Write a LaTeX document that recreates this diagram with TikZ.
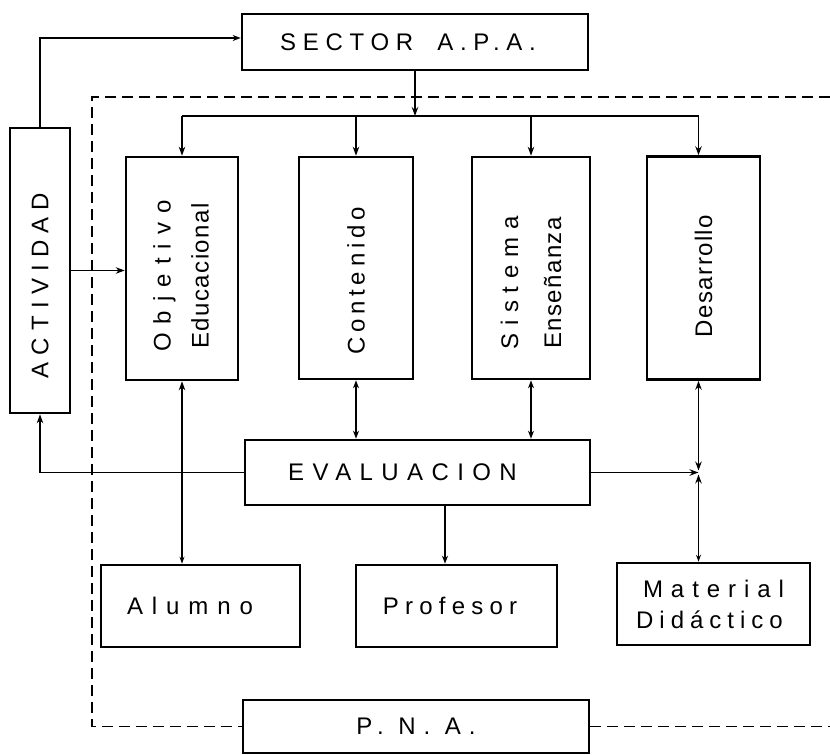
\documentclass[tikz,border=0pt]{standalone}
\usepackage{fontspec}
\setmainfont{Liberation Sans}
\usetikzlibrary{arrows.meta,calc}
% letter-spaced text: #1 = tracking, #2 = text
\newcommand{\tracked}[2]{{\addfontfeatures{LetterSpace=#1}#2}}

\begin{document}
\begin{tikzpicture}[x=1pt,y=-1pt,
  box/.style={draw, line width=2.6pt, inner sep=0pt, font=\fontsize{24}{29}\selectfont},
  link/.style={line width=1.4pt, >={Stealth[length=9pt,width=6.5pt]}},
  hollow/.style={line width=1.4pt, >={Stealth[length=8pt,width=6pt,open,fill=white]}},
  frame/.style={line width=1.4pt, dash pattern=on 11pt off 6pt}]
\useasboundingbox (0,0) rectangle (830,755);

% ---- blocks ----
\node[box, minimum width=346pt, minimum height=56pt] (sector) at (415,42)
  {\tracked{28}{SECTOR}\hspace{24pt}\tracked{28}{A.P.A.}\hspace*{14pt}};
\node[box, minimum width=60pt, minimum height=285pt] (act) at (40,270.5)
  {\rotatebox{90}{\tracked{30}{ACTIVIDAD}\hspace*{30pt}}};
\node[box, minimum width=112pt, minimum height=223pt] (obj) at (182,268.5)
  {\rotatebox{90}{\fontsize{24}{38}\selectfont\begin{tabular}{@{}c@{}}\tracked{38}{Objetivo}\\\tracked{6}{Educacional}\end{tabular}\hspace*{15pt}}};
\node[box, minimum width=114pt, minimum height=222pt] (cont) at (356,268)
  {\rotatebox{90}{\tracked{20}{Contenido}\hspace*{26pt}}};
\node[box, minimum width=118pt, minimum height=222pt] (sist) at (531,268)
  {\rotatebox{90}{\fontsize{24}{43}\selectfont\begin{tabular}{@{}c@{}}\tracked{32}{Sistema}\\\tracked{6}{Enseñanza}\end{tabular}\hspace*{30pt}}};
\node[box, minimum width=113pt, minimum height=223pt] (des) at (703.5,268)
  {\rotatebox{90}{\tracked{6}{Desarrollo}\hspace*{16pt}}};
\node[box, minimum width=345pt, minimum height=65pt] (eval) at (417.5,472.5)
  {\tracked{35}{EVALUACION}\hspace*{30pt}};
\node[box, minimum width=199pt, minimum height=82pt] (alum) at (200.5,606)
  {\tracked{37}{Alumno}\hspace*{21pt}};
\node[box, minimum width=201pt, minimum height=82pt] (prof) at (456.5,606)
  {\tracked{26}{Profesor}\hspace*{13pt}};
\node[box, minimum width=193pt, minimum height=82pt, align=center,
      font=\fontsize{24}{31}\selectfont] (mat) at (713.5,604)
  {\tracked{33}{Material}\\\tracked{25}{Didáctico}\hspace*{8pt}};
\node[box, minimum width=346pt, minimum height=53pt] (pna) at (416,726.5)
  {\tracked{33}{P. N. A.}};

% ---- dashed boundary ----
\coordinate (ftl) at (92,97);
\coordinate (ftr) at (830,97);
\draw[frame] (ftr) -- (ftl) -- (ftl |- pna.west) -- (pna.west);
\draw[frame] (pna.east) -- (pna.east -| ftr);

% ---- distribution bus from SECTOR A.P.A. ----
\coordinate (bus) at (0,116);
\coordinate (dcol) at ($(des.north)+(-5,0)$);
\draw[link] (obj.north |- bus) -- (dcol |- bus);
\draw[link,->] (sector.south) -- (sector.south |- bus);
\draw[link,->] (obj.north |- bus) -- (obj.north);
\draw[link,->] (cont.north |- bus) -- (cont.north);
\draw[link,->] (sist.north |- bus) -- (sist.north);
\draw[link,->] (dcol |- bus) -- (dcol);

% ---- ACTIVIDAD links ----
\coordinate (sin) at ($(sector.west)+(0,-4)$);
\draw[hollow,->] (act.north) |- (sin);
\draw[link,->] (act.east) -- (act.east -| obj.west);
\draw[link,->] (eval.west) -| (act.south);

% ---- EVALUACION links ----
\draw[line width=1.4pt, {Stealth[length=9pt,width=6.5pt]}-{Stealth[length=7pt,width=5pt,open,fill=white]}]
  (obj.south) -- (obj.south |- alum.north);
\draw[hollow,<->] (cont.south) -- (cont.south |- eval.north);
\draw[hollow,<->] (sist.south) -- (sist.south |- eval.north);
\coordinate (ep) at ($(eval.south)+(27.5,0)$);
\draw[hollow,->] (ep) -- (ep |- prof.north);
\coordinate (J) at (dcol |- eval.east);
\draw[link,->] (eval.east) -- (J);
\draw[link,<->, shorten >=2pt] (dcol |- des.south) -- (J);
\draw[line width=1.4pt, {Stealth[length=7pt,width=5pt,open,fill=white]}-{Stealth[length=9pt,width=6.5pt]}, shorten >=2pt]
  (dcol |- mat.north) -- (J);
\end{tikzpicture}
\end{document}
